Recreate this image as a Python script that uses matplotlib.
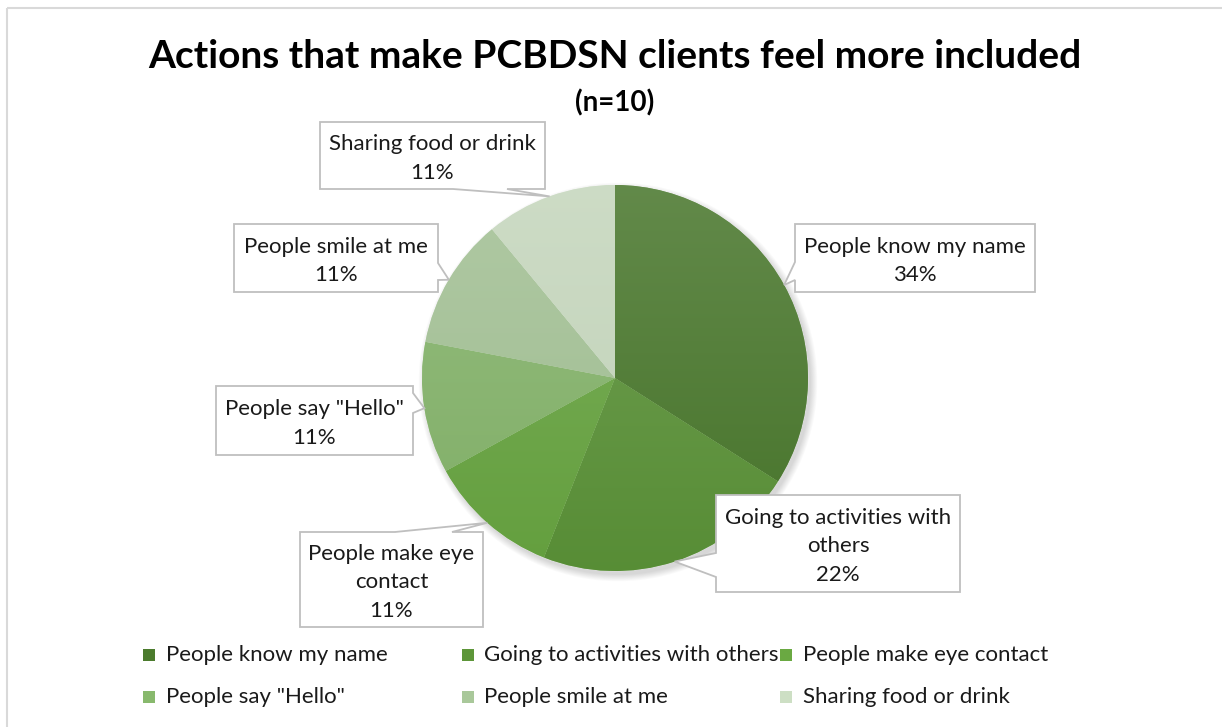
import matplotlib.pyplot as plt
import numpy as np
from matplotlib.colors import to_rgb
from matplotlib.patches import Circle, Polygon, Rectangle

TITLE = "Actions that make PCBDSN clients feel more included"
SUBTITLE = "(n=10)"
CATEGORIES = [
    "People know my name",
    "Going to activities with others",
    "People make eye contact",
    'People say "Hello"',
    "People smile at me",
    "Sharing food or drink",
]
CALLOUT_NAMES = [
    "People know my name",
    "Going to activities with\nothers",
    "People make eye\ncontact",
    'People say "Hello"',
    "People smile at me",
    "Sharing food or drink",
]
SHARES = [34, 22, 11, 11, 11, 11]
COLORS = ["#4b7b2d", "#5d9639", "#6aa942", "#88b96d", "#a9c89a", "#cddfc4"]

# callout boxes in pixel coords: x0, y0, x1, y1, side with the pointer, pointer base span
BOXES = [
    (795, 224, 1035, 292, "left", 262, 280),
    (716, 495, 960, 592, "left", 553, 577),
    (300, 532, 483, 627, "top", 395, 452),
    (216, 386, 413, 455, "right", 393, 413),
    (234, 224, 438, 292, "right", 263, 280),
    (320, 122, 545, 189, "bottom", 453, 507),
]

W, H = 1222, 727
CX, CY, R = 615, 378, 193
FONT = "Lato"
TEXT_COLOR = "#1a1a1a"
LABEL_SIZE = 16


def callout_points(box, tip):
    x0, y0, x1, y1, side, a, b = box
    if side == "top":
        return [(x0, y0), (a, y0), tip, (b, y0), (x1, y0), (x1, y1), (x0, y1)]
    if side == "right":
        return [(x0, y0), (x1, y0), (x1, a), tip, (x1, b), (x1, y1), (x0, y1)]
    if side == "bottom":
        return [(x0, y0), (x1, y0), (x1, y1), (b, y1), tip, (a, y1), (x0, y1)]
    return [(x0, y0), (x1, y0), (x1, y1), (x0, y1), (x0, b), tip, (x0, a)]


fig = plt.figure(figsize=(W / 100, H / 100), dpi=100)
ax = fig.add_axes([0, 0, 1, 1])

# soft shadow under the pie
for k in range(8):
    ax.add_patch(Circle((CX + 3, CY + 4), R + k * 0.9, color="black", alpha=0.018, lw=0, zorder=1))

wedges, _ = ax.pie(
    SHARES,
    colors=COLORS,
    startangle=-90,
    counterclock=True,
    radius=R,
    center=(CX, CY),
    wedgeprops=dict(edgecolor=(1, 1, 1, 0.35), linewidth=0.6, zorder=2),
)
ax.set_aspect("equal")
ax.axis("off")

# vertical gradient inside every slice, lighter at the top
grad = np.linspace(0, 1, 256)[:, None]
for w, col in zip(wedges, COLORS):
    base = np.array(to_rgb(col))
    top = base * 0.82 + 0.18 * np.array([0.8, 0.8, 0.8])
    bottom = base * 0.94
    img = top[None, None, :] * (1 - grad[..., None]) + bottom[None, None, :] * grad[..., None]
    img = np.repeat(img, 2, axis=1)
    im = ax.imshow(img, extent=(CX - R, CX + R, CY + R, CY - R), origin="upper",
                   aspect="auto", zorder=2.5, interpolation="bilinear")
    im.set_clip_path(w)

ax.set_xlim(0, W)
ax.set_ylim(H, 0)

# callouts
for w, name, share, box in zip(wedges, CALLOUT_NAMES, SHARES, BOXES):
    mid = np.deg2rad((w.theta1 + w.theta2) / 2)
    tip = (w.center[0] + w.r * np.cos(mid), w.center[1] + w.r * np.sin(mid))
    ax.add_patch(Polygon(callout_points(box, tip), closed=True, facecolor="white",
                         edgecolor="#bfbfbf", lw=1.3, zorder=4))
    x0, y0, x1, y1 = box[:4]
    ax.text((x0 + x1) / 2, (y0 + y1) / 2 + 3, f"{name}\n{share}%", ha="center", va="center",
            fontsize=LABEL_SIZE, family=FONT, color=TEXT_COLOR, linespacing=1.55, zorder=5)

# titles
ax.text(615, 57, TITLE, ha="center", va="center", fontsize=28, fontweight="bold",
        family=FONT, color="black")
ax.text(615, 103, SUBTITLE, ha="center", va="center", fontsize=20, fontweight="bold",
        family=FONT, color="black")

# legend, Excel style equal width columns
for i, (label, col) in enumerate(zip(CATEGORIES, COLORS)):
    row, c = divmod(i, 3)
    lx = 143 + c * 318.5
    ly = 655 + row * 42
    ax.add_patch(Rectangle((lx, ly - 6), 12, 12, facecolor=col, edgecolor="none"))
    ax.text(lx + 23, ly, label, ha="left", va="center", fontsize=LABEL_SIZE, family=FONT,
            color=TEXT_COLOR)

# chart frame
ax.add_patch(Rectangle((7, 8), 1400, 900, fill=False, edgecolor="#d9d9d9", lw=1.5, zorder=6))

fig.savefig("out.png", dpi=100)
